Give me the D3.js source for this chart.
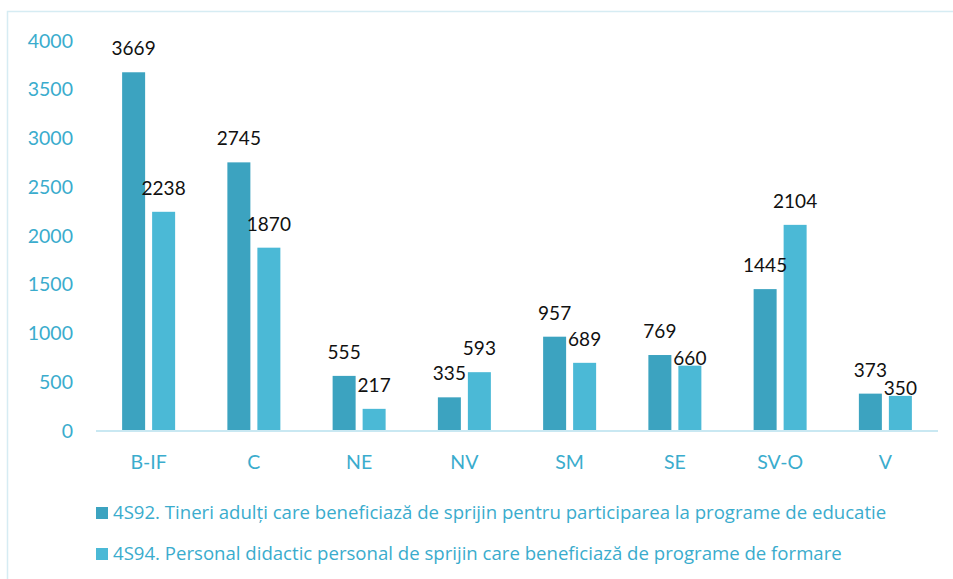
<!doctype html>
<html>
<head>
<meta charset="utf-8">
<script src="https://cdnjs.cloudflare.com/ajax/libs/d3/7.8.5/d3.min.js"></script>
<style>
  body { margin: 0; background: #fff; }
  svg { display: block; font-family: Lato, "Open Sans", sans-serif; }
</style>
</head>
<body>
<svg id="chart" width="953" height="579"></svg>
<script>
// data
const regions = ["B-IF", "C", "NE", "NV", "SM", "SE", "SV-O", "V"];
const tineri = [3669, 2745, 555, 335, 957, 769, 1445, 373];
const personal = [2238, 1870, 217, 593, 689, 660, 2104, 350];
const seriesNames = [
  "4S92. Tineri adulți care beneficiază de sprijin pentru participarea la programe de educatie",
  "4S94. Personal didactic personal de sprijin care beneficiază de programe de formare"
];
const yTicks = [0, 500, 1000, 1500, 2000, 2500, 3000, 3500, 4000];

const colors = ["#3ca3c0", "#4bb9d6"];
const textBlue = "#3aaccd";

const svg = d3.select("#chart");

// outer frame (right/bottom edges run off the picture)
svg.append("rect")
  .attr("x", 7.5).attr("y", 11.5)
  .attr("width", 960).attr("height", 600)
  .attr("fill", "none").attr("stroke", "#d6ecf3").attr("stroke-width", 1.5);

const x = d3.scaleBand().domain(regions).range([96, 938]);
const y = d3.scaleLinear().domain([0, 4000]).range([430, 40]);

// y axis (labels only)
const yAxis = d3.axisLeft(y).tickValues(yTicks).tickFormat(d3.format("d")).tickSize(0).tickPadding(0);
const yg = svg.append("g").attr("transform", "translate(73,0)").call(yAxis);
yg.select(".domain").remove();
yg.selectAll("text")
  .attr("fill", textBlue).attr("font-size", 19.5)
  .attr("font-family", "Lato, sans-serif").attr("dy", "0.36em");

// bars
const barW = 23;
const offs = [-26.5, 3.5];
const groups = regions.map((r, i) => ({ r, vals: [tineri[i], personal[i]] }));

const g = svg.selectAll(".grp").data(groups).enter().append("g")
  .attr("class", "grp")
  .attr("transform", d => "translate(" + (x(d.r) + x.bandwidth() / 2) + ",0)");

g.selectAll("rect").data(d => d.vals).enter().append("rect")
  .attr("x", (v, j) => offs[j])
  .attr("y", v => y(v))
  .attr("width", barW)
  .attr("height", v => y(0) - y(v))
  .attr("fill", (v, j) => colors[j]);

// value labels: the second label sits right on its bar when it would collide with the first
function labelY(d, j) {
  const base0 = y(d.vals[0]) - 17;
  const base1 = y(d.vals[1]) - 17;
  if (j === 0) return base0;
  if (Math.abs(base1 - base0) < 17) return y(d.vals[1]) - 1;
  return base1;
}
g.each(function (d) {
  d3.select(this).selectAll("text.lbl").data(d.vals).enter().append("text")
    .attr("class", "lbl")
    .attr("x", (v, j) => offs[j] + barW / 2)
    .attr("y", (v, j) => labelY(d, j))
    .attr("text-anchor", "middle")
    .attr("font-size", 19)
    .attr("fill", "#111")
    .text(v => v);
});

// baseline
svg.append("line")
  .attr("x1", 96).attr("x2", 938)
  .attr("y1", y(0) + 1).attr("y2", y(0) + 1)
  .attr("stroke", "#c9e8f2").attr("stroke-width", 2);

// x axis labels
const xAxis = d3.axisBottom(x).tickSize(0).tickPadding(0);
const xg = svg.append("g").attr("transform", "translate(0,462)").call(xAxis);
xg.select(".domain").remove();
xg.selectAll("text")
  .attr("fill", textBlue).attr("font-size", 19.5)
  .attr("font-family", "Lato, sans-serif").attr("dy", "0.36em");

// legend
const leg = svg.selectAll(".leg").data(seriesNames).enter().append("g")
  .attr("class", "leg")
  .attr("transform", (d, i) => "translate(96," + (507 + i * 41) + ")");
leg.append("rect").attr("width", 12).attr("height", 12)
  .attr("fill", (d, i) => colors[i]);
leg.append("text")
  .attr("x", 17).attr("y", 12)
  .attr("fill", textBlue).attr("font-size", 18.6)
  .attr("font-family", "'Open Sans', sans-serif")
  .text(d => d);
</script>
</body>
</html>
